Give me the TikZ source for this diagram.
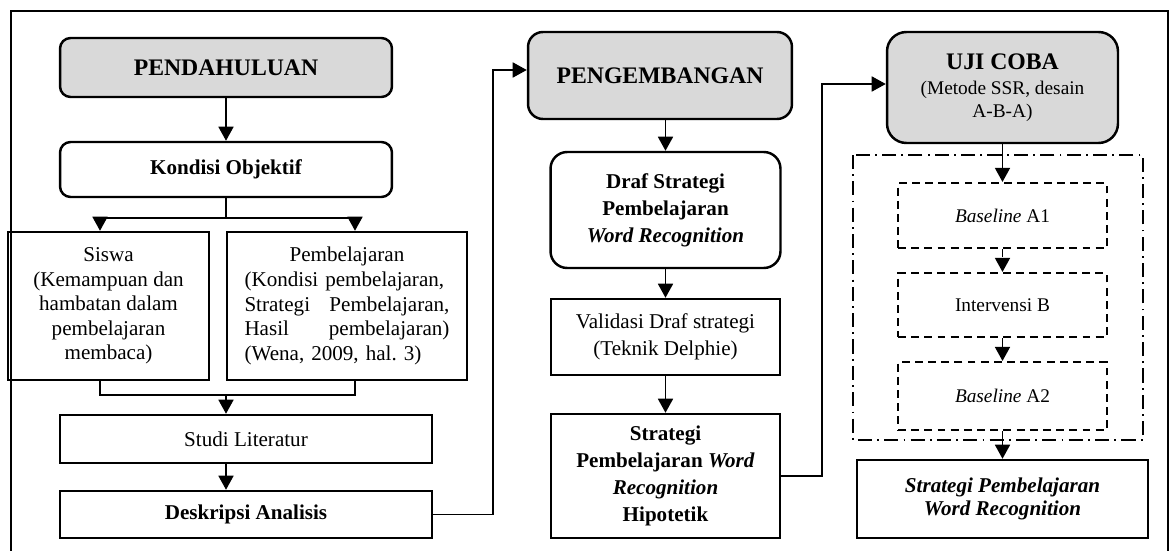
\documentclass[tikz,border=0pt]{standalone}
\usepackage{fontspec}
\setmainfont{Liberation Serif}
\usetikzlibrary{shapes,arrows.meta}
\definecolor{headgray}{RGB}{217,217,217}
\frenchspacing

\begin{document}
\begin{tikzpicture}[x=0.02cm, y=-0.02cm,
  >={Triangle[length=8pt,width=8.5pt]},
  box/.style={draw, line width=1.4pt, align=center, inner sep=2pt,
    font=\fontsize{12}{14}\selectfont},
  headbox/.style={box, fill=headgray, rounded corners=6pt,
    font=\fontsize{13.5}{16}\selectfont\bfseries},
  roundbox/.style={box, rounded corners=6pt},
  phasebox/.style={box, line width=1.2pt, dash pattern=on 4.5pt off 3pt,
    font=\fontsize{11}{13}\selectfont},
  groupline/.style={line width=1.2pt, dash pattern=on 8pt off 3pt on 1pt off 3pt},
  link/.style={line width=1.1pt},
  split/.style={line width=0.7pt}]
\useasboundingbox (0,0) rectangle (1171,551);
\draw[line width=1pt] (11,551) -- (11,11) -- (1168,11) -- (1168,551);

% pendahuluan
\node[headbox, minimum width=6.64cm, minimum height=1.18cm] (pend) at (226,67.5) {PENDAHULUAN};
\node[roundbox, minimum width=6.64cm, minimum height=1.1cm, font=\fontsize{12}{14}\selectfont\bfseries] (kond) at (226,169.5) {Kondisi Objektif};
\node[box, minimum width=4.02cm, minimum height=2.96cm] (siswa) at (108.5,306)
  {Siswa\\(Kemampuan dan\\hambatan dalam\\pembelajaran\\membaca)};
\node[box, minimum width=4.8cm, minimum height=2.96cm, text width=4.1cm, align=left] (pemb) at (347,306)
  {\hfill Pembelajaran\hfill\null\\(Kondisi pembelajaran,\\Strategi\hfill Pembelajaran,\\Hasil\hfill pembelajaran)\\(Wena, 2009, hal. 3)\hfill\null};
\node[box, minimum width=7.44cm, minimum height=0.96cm] (studi) at (246,439) {Studi Literatur};
\node[box, minimum width=7.44cm, minimum height=0.94cm, font=\fontsize{12}{14}\selectfont\bfseries] (desk) at (246,514.5) {Deskripsi Analisis};

% pengembangan
\node[headbox, rounded corners=8.5pt, minimum width=5.28cm, minimum height=1.74cm] (peng) at (660,75.5) {PENGEMBANGAN};
\node[roundbox, rounded corners=9.5pt, minimum width=4.6cm, minimum height=2.32cm, font=\fontsize{12}{15.3}\selectfont\bfseries] (draf) at (665.5,210)
  {Draf Strategi\\Pembelajaran\\\textit{Word Recognition}};
\node[box, minimum width=4.58cm, minimum height=1.52cm, font=\fontsize{12}{15.3}\selectfont] (valid) at (665.5,337)
  {Validasi Draf strategi\\(Teknik Delphie)};
\node[box, minimum width=4.58cm, minimum height=2.48cm, font=\fontsize{12}{15.3}\selectfont\bfseries] (hipo) at (665.5,476)
  {Strategi\\Pembelajaran \textit{Word}\\\textit{Recognition}\\Hipotetik};

% uji coba
\node[headbox, rounded corners=11pt, minimum width=4.62cm, minimum height=2.22cm, font=\fontsize{11}{13}\selectfont] (uji) at (1002.5,87.5)
  {{\fontsize{13.5}{16}\selectfont\bfseries UJI COBA}\\[1pt](Metode SSR, desain\\A-B-A)};
\draw[groupline] (853,155) rectangle (1143,440);
\node[phasebox, minimum width=4.18cm, minimum height=1.3cm] (base1) at (1002.5,215.5) {\textit{Baseline} A1};
\node[phasebox, minimum width=4.18cm, minimum height=1.28cm] (interv) at (1002.5,305) {Intervensi B};
\node[phasebox, minimum width=4.18cm, minimum height=1.36cm] (base2) at (1002.5,396) {\textit{Baseline} A2};
\node[box, minimum width=5.82cm, minimum height=1.56cm, font=\fontsize{12}{13}\selectfont\bfseries\itshape] (final) at (1002.5,499)
  {Strategi Pembelajaran\\Word Recognition};

\coordinate (sM) at (226,218);
\coordinate (sL) at (100,218);
\coordinate (sR) at (355,218);
\coordinate (jL) at (100,395);
\coordinate (jM) at (226,395);
\coordinate (jR) at (355,395);
\coordinate (c1) at (493,70);
\coordinate (c2) at (822,84);

\draw[link,->] (pend) -- (kond);
\draw[split] (kond.south) -- (sM);
\draw[split] (sL) -- (sR);
\draw[link,->] (sL) -- (sL |- siswa.north);
\draw[link,->] (sR) -- (sR |- pemb.north);
\draw[split] (sL |- siswa.south) -- (jL) -- (jR) -- (sR |- pemb.south);
\draw[link,->] (jM) -- (jM |- studi.north);
\draw[link,->] (jM |- studi.south) -- (jM |- desk.north);
\draw[link,->] (desk.east) -| (c1) -- (c1 -| peng.west);

\draw[link,->] (draf.north |- peng.south) -- (draf.north);
\draw[link,->] (draf) -- (valid);
\draw[link,->] (valid) -- (hipo);
\draw[link,->] (hipo.east) -| (c2) -- (c2 -| uji.west);

\draw[link,->] (uji) -- (base1);
\draw[link,->,dash pattern=on 4.5pt off 3pt] (base1) -- (interv);
\draw[link,->] (interv) -- (base2);
\draw[link,->] (base2) -- (final);
\end{tikzpicture}
\end{document}
